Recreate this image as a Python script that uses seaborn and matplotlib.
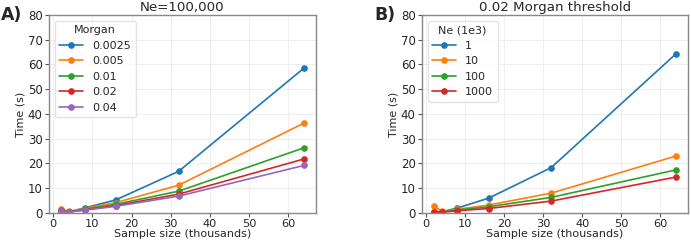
import numpy as np
import pandas as pd
import matplotlib
matplotlib.use("Agg")
import matplotlib.pyplot as plt
import seaborn as sns

sns.set_style("whitegrid")
plt.rcParams['font.family'] = ['DejaVu Sans']

# --- data ---
sample_k = [2, 4, 8, 16, 32, 64]

morgan_labels = ["0.0025", "0.005", "0.01", "0.02", "0.04"]
morgan_times = [
    [1.0, 0.5, 2.0, 5.3, 16.8, 58.5],
    [1.6, 0.6, 1.8, 4.2, 11.2, 36.3],
    [1.2, 0.5, 1.5, 3.5, 8.8, 26.3],
    [0.8, 0.4, 1.3, 3.0, 7.6, 21.8],
    [0.6, 0.4, 1.1, 2.7, 6.8, 19.2],
]

ne_labels = ["1", "10", "100", "1000"]
ne_times = [
    [0.5, 0.5, 2.0, 6.0, 18.3, 64.3],
    [3.0, 0.6, 1.5, 3.2, 8.0, 23.0],
    [0.5, 0.4, 1.2, 2.5, 6.3, 17.4],
    [0.3, 0.3, 0.9, 1.8, 4.8, 14.5],
]


def long_df(labels, times, key):
    rows = []
    for lab, ys in zip(labels, times):
        for x, y in zip(sample_k, ys):
            rows.append({"x": x, "y": y, key: lab})
    return pd.DataFrame(rows)


fig = plt.figure(figsize=(6.91, 2.42), dpi=100)
ax1 = fig.add_axes([0.0709, 0.12, 0.3864, 0.818])
ax2 = fig.add_axes([0.6107, 0.12, 0.385, 0.818])

palette = sns.color_palette("tab10")

panels = [
    (ax1, long_df(morgan_labels, morgan_times, "Morgan"), "Morgan", "Ne=100,000", "A)"),
    (ax2, long_df(ne_labels, ne_times, "Ne (1e3)"), "Ne (1e3)", "0.02 Morgan threshold", "B)"),
]

for ax, df, key, title, tag in panels:
    n = df[key].nunique()
    sns.lineplot(data=df, x="x", y="y", hue=key, palette=palette[:n], marker="o",
                 markersize=4.8, markeredgewidth=0, linewidth=1.2, ax=ax)
    ax.set_xlim(-1.1, 67.1)
    ax.set_ylim(0, 80)
    ax.set_xticks([0, 10, 20, 30, 40, 50, 60])
    ax.set_yticks(range(0, 81, 10))
    ax.set_xlabel("Sample size (thousands)", fontsize=8, labelpad=0)
    ax.set_ylabel("Time (s)", fontsize=8, labelpad=2)
    ax.set_title(title, fontsize=9.6, pad=3)
    ax.tick_params(axis="y", labelsize=8.5, pad=1.5)
    ax.tick_params(axis="x", labelsize=8.2, pad=1)
    ax.tick_params(length=3, width=0.8, left=True, bottom=True, color="#555555")
    ax.grid(color="#ececec", linewidth=0.6)
    for s in ax.spines.values():
        s.set_color("#888888")
        s.set_linewidth(1.0)
    leg = ax.legend(title=key, loc="upper left", fontsize=8, title_fontsize=8,
                    frameon=True, borderpad=0.4, labelspacing=0.5, handlelength=2.2)
    leg.get_frame().set_edgecolor("#dddddd")
    ax.text(-0.18, 1.0, tag, transform=ax.transAxes, fontsize=12.5, fontweight="bold",
            va="center", ha="left")

fig.savefig("out.png", dpi=100)
